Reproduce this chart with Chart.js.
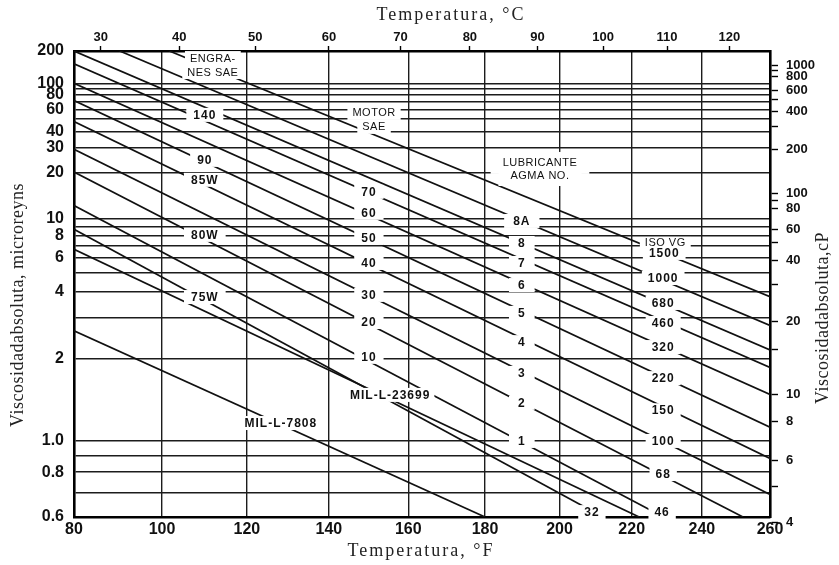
<!DOCTYPE html>
<html><head><meta charset="utf-8">
<script src="https://cdn.jsdelivr.net/npm/chart.js@4.4.1/dist/chart.umd.min.js"></script>
<style>html,body{margin:0;padding:0;background:#fff;}canvas{display:block;}</style>
</head><body>
<canvas id="c" width="839" height="565"></canvas>
<script>
// ---- tick values ----
const tempF_ticks = [80,100,120,140,160,180,200,220,240,260];
const tempC_ticks = [30,40,50,60,70,80,90,100,110,120];
const visc_grid = [200,100,90,80,70,60,50,40,30,20,10,9,8,7,6,5,4,3,2,1,0.9,0.8,0.7,0.6];
const visc_labels = [200,100,80,60,40,30,20,10,8,6,4,2,1,0.8,0.6];
const cp_ticks = [1000,900,800,600,500,400,300,200,100,90,80,60,50,40,30,20,15,10,8,6,5,4];
const cp_labels = [1000,800,600,400,200,100,80,60,40,20,10,8,6,4];

// ---- lines: [temperature °F, viscosity microreyns] ----
const isoVG1500 = [[101.7,200],[260,3.77]];
const isoVG1000 = [[90.3,200],[260,2.77]];
const isoVG680  = [[80,200],[260,2.17]];
const isoVG460  = [[80,151],[260,1.84]];
const isoVG320  = [[80,100],[260,1.45]];
const isoVG220  = [[80,71],[260,1.11]];
const isoVG150  = [[80,47.8],[260,0.88]];
const isoVG100  = [[80,29.2],[260,0.69]];
const isoVG68   = [[80,20.1],[252,0.6]];
const isoVG46   = [[80,12.1],[229,0.6]];
const isoVG32   = [[80,8.67],[212,0.6]];
const milL23699 = [[80,6.67],[222.1,0.6]];
const milL7808  = [[80,2.62],[180,0.6]];

// ---- labels: [text, °F, microreyns] ----
const gearLabels  = [['140',110,54.0],['90',110,24.5],['85W',110,17.8],['80W',110,8.04],['75W',110,3.76]];
const motorLabels = [['70',150,14.8],['60',150,10.9],['50',150,7.72],['40',150,5.61],['30',150,3.85],['20',150,2.87],['10',150,2.03]];
const agmaLabels  = [['8A',189.8,9.72],['8',189.8,7.23],['7',189.8,5.61],['6',189.8,4.31],['5',189.8,3.16],['4',189.8,2.34],['3',189.8,1.75],['2',189.8,1.35],['1',189.8,1.0]];
const isoLabels   = [['1500',229.2,6.36],['1000',228.9,4.68],['680',228.9,3.52],['460',228.9,2.84],['320',228.9,2.23],['220',228.9,1.67],['150',228.9,1.27],['100',228.9,1.0],['68',228.9,0.79],['46',228.6,0.618],['32',208.9,0.618]];
const milLabels   = [['MIL-L-23699',155.4,1.443],['MIL-L-7808',128.2,1.147]];
const headerLabels = [['ENGRA-',111.9,171],['NES SAE',111.9,126.7],['MOTOR',151.3,56],['SAE',151.3,43.3],['LUBRICANTE',194.7,23.3],['AGMA NO.',194.7,19.2],['ISO VG',229.5,7.23]];

// ---- chart transforms (log absolute temperature, Walther-type viscosity) ----
const fx = f => Math.log10(f + 460);
const fy = m => Math.log10(Math.log10(m) + 1.15);
const fToC = c => c * 9 / 5 + 32;

const seriesList = [isoVG1500,isoVG1000,isoVG680,isoVG460,isoVG320,isoVG220,isoVG150,isoVG100,isoVG68,isoVG46,isoVG32,milL23699,milL7808];

const datasets = seriesList.map(s => ({
  data: s.map(([f, m]) => ({x: fx(f), y: fy(m)})),
  borderColor: '#111', borderWidth: 1.7, pointRadius: 0, fill: false, tension: 0
}));

const SANS = '"Liberation Sans", Arial, sans-serif';
const SERIF = '"Liberation Serif", "Times New Roman", serif';

const annot = {
  id: 'annot',
  afterDatasetsDraw(chart) {
    const {ctx, scales: {x, y}} = chart;
    const items = [];
    const add = (arr, font, pad, sp, h) => arr.forEach(([t, f, m]) => items.push({
      t, font, pad, sp, h, px: x.getPixelForValue(fx(f)), py: y.getPixelForValue(fy(m))
    }));
    const numFont = 'bold 12px ' + SANS;
    add(gearLabels, numFont, 7, '1px', 14);
    add(motorLabels, numFont, 7, '1px', 14);
    add(agmaLabels, numFont, 9, '1px', 14);
    add(isoLabels, numFont, 6, '1px', 14);
    add(milLabels, numFont, 4, '1px', 14);
    add(headerLabels.slice(0, 4), '11px ' + SANS, 5, '0.5px', 14);
    add(headerLabels.slice(4, 6), '11px ' + SANS, 12, '0.5px', 22);
    add(headerLabels.slice(6), '11px ' + SANS, 5, '0.5px', 12);
    ctx.save();
    items.forEach(it => {
      ctx.font = it.font; ctx.letterSpacing = it.sp;
      const w = ctx.measureText(it.t).width;
      ctx.fillStyle = '#fff';
      ctx.fillRect(it.px - w / 2 - it.pad, it.py - it.h / 2, w + 2 * it.pad, it.h);
    });
    items.forEach(it => {
      ctx.font = it.font; ctx.letterSpacing = it.sp;
      ctx.fillStyle = '#111'; ctx.textAlign = 'center'; ctx.textBaseline = 'middle';
      ctx.fillText(it.t, it.px, it.py + 0.5);
    });
    ctx.restore();
  },
  afterDraw(chart) {
    const ctx = chart.ctx;
    ctx.save();
    ctx.fillStyle = '#222';
    ctx.textAlign = 'center'; ctx.textBaseline = 'middle';
    ctx.font = '18px ' + SERIF;
    ctx.letterSpacing = '2px';
    ctx.fillText('Temperatura, °F', 421, 551);
    ctx.fillText('Temperatura, °C', 451, 15);
    ctx.letterSpacing = '0.5px';
    ctx.save(); ctx.translate(18, 305); ctx.rotate(-Math.PI / 2);
    ctx.fillText('Viscosidadabsoluta, microreyns', 0, 0); ctx.restore();
    ctx.save(); ctx.translate(823, 318); ctx.rotate(-Math.PI / 2);
    ctx.fillText('Viscosidadabsoluta,cP', 0, 0); ctx.restore();
    ctx.restore();
  }
};

const gridColor = '#1c1c1c';
const borderCfg = {display: true, color: '#000', width: 2.6};

new Chart(document.getElementById('c'), {
  type: 'line',
  data: {datasets},
  options: {
    responsive: false, animation: false, devicePixelRatio: 1,
    layout: {padding: 0},
    plugins: {legend: {display: false}, tooltip: {enabled: false}},
    scales: {
      x: {
        type: 'linear', position: 'bottom', min: fx(80), max: fx(260),
        afterBuildTicks: s => { s.ticks = tempF_ticks.map(v => ({value: fx(v)})); },
        afterFit: s => { s.height = 48; },
        ticks: {callback: (v, i) => String(tempF_ticks[i]), autoSkip: false, maxRotation: 0,
                padding: 3, color: '#111', font: {family: SANS, size: 16, weight: 'bold'}},
        grid: {color: gridColor, lineWidth: 1.4, drawTicks: false},
        border: borderCfg
      },
      xTop: {
        type: 'linear', position: 'top', min: fx(80), max: fx(260),
        afterBuildTicks: s => { s.ticks = tempC_ticks.map(c => ({value: fx(fToC(c))})); },
        afterFit: s => { s.height = 51; },
        ticks: {callback: (v, i) => String(tempC_ticks[i]), autoSkip: false, maxRotation: 0,
                padding: 1, color: '#111', font: {family: SANS, size: 13, weight: 'bold'}},
        grid: {drawOnChartArea: false, drawTicks: true, tickLength: 5, tickColor: '#000', tickWidth: 1.4},
        border: borderCfg
      },
      y: {
        type: 'linear', position: 'left', min: fy(0.6), max: fy(200),
        afterBuildTicks: s => { s.ticks = visc_grid.map(m => ({value: fy(m)})); },
        afterFit: s => { s.width = 74; },
        ticks: {callback: (v, i) => {
                  const m = visc_grid[i];
                  if (!visc_labels.includes(m)) return '';
                  return m <= 1 ? m.toFixed(1) : String(m);
                }, autoSkip: false, padding: 10, color: '#111', font: {family: SANS, size: 16, weight: 'bold'}},
        grid: {color: gridColor, lineWidth: 1.4, drawTicks: false},
        border: borderCfg
      },
      yRight: {
        type: 'linear', position: 'right', min: fy(0.6), max: fy(200),
        afterBuildTicks: s => { s.ticks = cp_ticks.map(c => ({value: fy(c / 6.895)})); },
        afterFit: s => { s.width = 69; },
        ticks: {callback: (v, i) => cp_labels.includes(cp_ticks[i]) ? String(cp_ticks[i]) : '',
                autoSkip: false, padding: 8, color: '#111', font: {family: SANS, size: 13, weight: 'bold'}},
        grid: {drawOnChartArea: false, drawTicks: true, tickLength: 8, tickColor: '#000', tickWidth: 1.4},
        border: borderCfg
      }
    }
  },
  plugins: [annot]
});
</script>
</body></html>
